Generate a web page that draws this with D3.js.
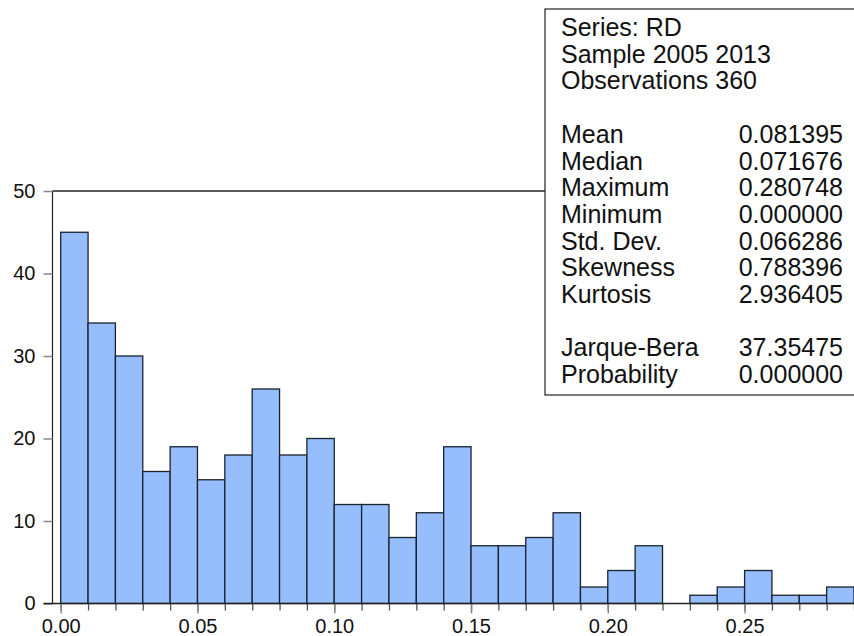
<!DOCTYPE html>
<html>
<head>
<meta charset="utf-8">
<script src="https://cdn.jsdelivr.net/npm/d3@7/dist/d3.min.js"></script>
<style>
  html, body { margin: 0; padding: 0; background: #fff; }
  svg { display: block; font-family: "Liberation Sans", Arial, sans-serif; }
</style>
</head>
<body>
<svg id="chart" width="854" height="636"></svg>
<script>
// Histogram of RD: bin counts for bins of width 0.01 starting at 0.00
const binStarts = [0.00, 0.01, 0.02, 0.03, 0.04, 0.05, 0.06, 0.07, 0.08, 0.09,
                   0.10, 0.11, 0.12, 0.13, 0.14, 0.15, 0.16, 0.17, 0.18, 0.19,
                   0.20, 0.21, 0.22, 0.23, 0.24, 0.25, 0.26, 0.27, 0.28];
const counts = [45, 34, 30, 16, 19, 15, 18, 26, 18, 20,
                12, 12, 8, 11, 19, 7, 7, 8, 11, 2,
                4, 7, 0, 1, 2, 4, 1, 1, 2];
const binWidth = 0.01;

const xTickValues = [0.00, 0.05, 0.10, 0.15, 0.20, 0.25];
const yTickValues = [0, 10, 20, 30, 40, 50];

// Descriptive statistics panel
const headerLines = ["Series: RD", "Sample 2005 2013", "Observations 360"];
const statNames = ["Mean", "Median", "Maximum", "Minimum", "Std. Dev.", "Skewness", "Kurtosis"];
const statValues = ["0.081395", "0.071676", "0.280748", "0.000000", "0.066286", "0.788396", "2.936405"];
const testNames = ["Jarque-Bera", "Probability"];
const testValues = ["37.35475", "0.000000"];

const svg = d3.select("#chart");

const plotLeft = 52.5, plotRight = 854, plotTop = 191, plotBottom = 603.5;

const x = d3.scaleLinear().domain([-0.003, 0.29]).range([plotLeft, plotRight]);
const y = d3.scaleLinear().domain([0, 50]).range([plotBottom, plotTop]);

// bars
svg.append("g")
  .selectAll("rect")
  .data(binStarts.map((s, i) => ({ s, c: counts[i] })))
  .join("rect")
  .attr("x", d => x(d.s))
  .attr("y", d => y(d.c))
  .attr("width", d => x(d.s + binWidth) - x(d.s))
  .attr("height", d => y(0) - y(d.c))
  .attr("fill", "#96bdfc")
  .attr("stroke", "#1a2230")
  .attr("stroke-width", 1.3);

// frame: top and left
svg.append("line")
  .attr("x1", plotLeft).attr("x2", plotRight)
  .attr("y1", plotTop).attr("y2", plotTop)
  .attr("stroke", "#222").attr("stroke-width", 1.7);
svg.append("line")
  .attr("x1", plotLeft).attr("x2", plotLeft)
  .attr("y1", plotTop).attr("y2", plotBottom)
  .attr("stroke", "#222").attr("stroke-width", 1.2);

const labelFont = 20;

// y axis
const yAxis = d3.axisLeft(y).tickValues(yTickValues).tickFormat(d3.format("d"))
  .tickSize(9).tickPadding(8);
const gy = svg.append("g").attr("transform", `translate(${plotLeft},0)`).call(yAxis);
gy.select(".domain").remove();
gy.selectAll(".tick line").attr("stroke", "#888").attr("stroke-width", 1.5);
gy.selectAll(".tick text").attr("font-size", labelFont).attr("fill", "#111")
  .attr("font-family", "Liberation Sans, Arial, sans-serif");

// x axis: minor ticks every bin, labelled major ticks every 0.05
const gxMinor = svg.append("g").attr("transform", `translate(0,${plotBottom})`)
  .call(d3.axisBottom(x).tickValues(binStarts.concat([0.29])).tickFormat("").tickSize(7));
gxMinor.select(".domain").remove();
gxMinor.selectAll(".tick line").attr("stroke", "#555").attr("stroke-width", 1.3);

const gx = svg.append("g").attr("transform", `translate(0,${plotBottom})`)
  .call(d3.axisBottom(x).tickValues(xTickValues).tickFormat(d3.format(".2f"))
    .tickSize(10).tickPadding(5));
gx.select(".domain").remove();
gx.selectAll(".tick line").attr("stroke", "#888").attr("stroke-width", 1.5);
gx.selectAll(".tick text").attr("font-size", labelFont).attr("fill", "#111")
  .attr("font-family", "Liberation Sans, Arial, sans-serif");

// baseline
svg.append("line")
  .attr("x1", plotLeft - 9).attr("x2", plotRight)
  .attr("y1", plotBottom).attr("y2", plotBottom)
  .attr("stroke", "#222").attr("stroke-width", 1.5);

// statistics panel
const box = svg.append("g");
box.append("rect")
  .attr("x", 545).attr("y", 9).attr("width", 330).attr("height", 386)
  .attr("fill", "#fff").attr("stroke", "#222").attr("stroke-width", 1.2);

const rowPitch = 26.7, firstBaseline = 36, labelX = 561, valueX = 843, statFont = 25;
const rows = [];
headerLines.forEach(t => rows.push({ label: t, value: "" }));
rows.push(null);
statNames.forEach((t, i) => rows.push({ label: t, value: statValues[i] }));
rows.push(null);
testNames.forEach((t, i) => rows.push({ label: t, value: testValues[i] }));

rows.forEach((r, i) => {
  if (!r) return;
  const yy = firstBaseline + i * rowPitch;
  box.append("text").attr("x", labelX).attr("y", yy)
    .attr("font-size", statFont).attr("fill", "#111").text(r.label);
  if (r.value) {
    box.append("text").attr("x", valueX).attr("y", yy)
      .attr("text-anchor", "end").attr("font-size", statFont).attr("fill", "#111").text(r.value);
  }
});
</script>
</body>
</html>
